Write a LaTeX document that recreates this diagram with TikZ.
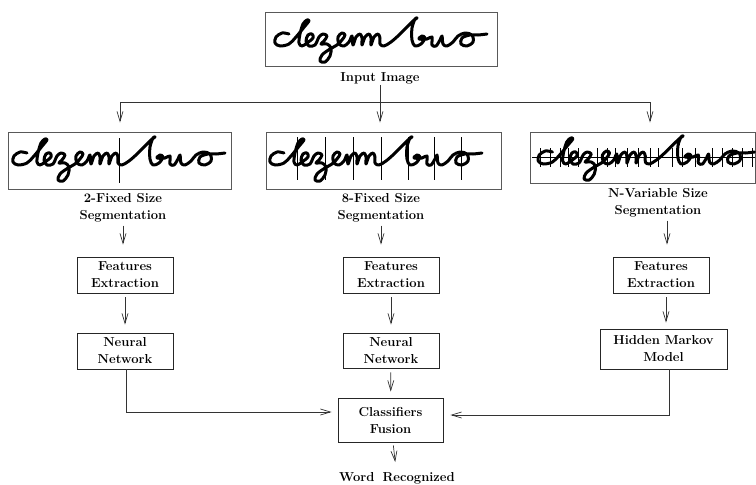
\documentclass[tikz,border=0pt]{standalone}
\usetikzlibrary{arrows.meta}
\begin{document}
\begin{tikzpicture}[x=1pt,y=-1pt,
  box/.style={draw=black!85, line width=0.8pt, inner sep=0pt, align=center, font=\fontsize{13}{17}\selectfont\bfseries},
  lbl/.style={inner sep=0pt, align=center, font=\fontsize{13}{17}\selectfont\bfseries},
  imgbox/.style={draw=black!65, line width=0.9pt, inner sep=0pt},
  arr/.style={draw=black!80, line width=0.7pt, -{Straight Barb[length=10pt,width=6pt]}},
  ln/.style={draw=black!80, line width=0.7pt},
  ink/.style={line width=3pt, line cap=round, line join=round},
  segl/.style={line width=0.7pt},
  hw/.pic={
    \draw[ink] plot[smooth, tension=0.55] coordinates {
      (24,22) (17,21) (11,25) (10,31) (15,34) (24,32) (31,25) (40,14) (44,9) (42,8) (38,12) (35,22) (34,31) (37,34)
      (42,31) (48,26) (47,22) (43,23) (41,29) (44,34) (50,33)
      (54,25) (58,22) (62,24) (59,29) (56,32) (62,32) (66,36) (65,44) (60,50) (55,49) (57,43) (65,37) (72,33)
      (77,28) (80,23) (77,21) (73,25) (74,32) (79,34) (84,30)
      (87,24) (88,33) (91,25) (95,22) (97,26) (97,33) (100,25) (104,22) (106,26) (106,33) (109,25) (113,22) (115,26) (115,32) (119,34)
      (126,30) (134,23) (142,15) (148,9) (152,6) (150,7) (147,16) (147,28) (150,34) (156,32) (160,26) (157,24) (154,27)
      (162,27) (167,25) (167,33) (171,34) (175,28) (177,24) (178,32) (182,34) (188,30)
      (193,24) (200,21) (207,23) (208,30) (202,34) (196,32) (197,26) (205,23) (213,23) (222,22)
    };
  }
]
\useasboundingbox (0,0) rectangle (756,485);

% input image
\node[imgbox, minimum width=232pt, minimum height=54pt] (img0) at (381,39) {};
\pic at (265,12) {hw};
\node[lbl] (lab0) at (380,78) {Input Image};

% segmented images
\node[imgbox, minimum width=223pt, minimum height=57pt] (img1) at (119.5,160.5) {};
\pic at (3,131) {hw};
\draw[segl] (119,138) -- (119,183);

\node[imgbox, minimum width=235pt, minimum height=57pt] (img2) at (383.5,160.5) {};
\pic at (260,131) {hw};
\foreach \sx in {297,325,353,381,408,434,461} \draw[segl] (\sx,137) -- (\sx,180);

\node[imgbox, minimum width=225pt, minimum height=51pt] (img3) at (642.5,157.5) {};
\pic[xscale=1.02] at (528,130) {hw};
\draw[segl] (532,157) -- (755,157);
\foreach \sx in {540,550,560,568,578,597,607,615,627,638,650,658,672,682,695,712,722,732,742,752} \draw[segl] (\sx,148) -- (\sx,167);

% labels
\node[lbl] (seg1) at (123,208) {2-Fixed Size\\Segmentation};
\node[lbl] (seg2) at (381,208) {8-Fixed Size\\Segmentation};
\node[lbl] (seg3) at (658,203) {N-Variable Size\\Segmentation};

% boxes
\node[box, minimum width=96pt, minimum height=36pt] (fe1) at (125,275) {Features\\Extraction};
\node[box, minimum width=96pt, minimum height=36pt] (nn1) at (125,351) {Neural\\Network};
\node[box, minimum width=96pt, minimum height=36pt] (fe2) at (391,275) {Features\\Extraction};
\node[box, minimum width=96pt, minimum height=35pt] (nn2) at (391,350.5) {Neural\\Network};
\node[box, minimum width=105pt, minimum height=44pt] (cf) at (390.5,420) {Classifiers\\Fusion};
\node[box, minimum width=96pt, minimum height=36pt] (fe3) at (661,275) {Features\\Extraction};
\node[box, minimum width=127pt, minimum height=40pt] (hmm) at (663.5,349) {Hidden Markov\\Model};
\node[lbl] (word) at (397,478) {Word\hspace{8pt}Recognized};

% top distribution
\coordinate (hl) at (120,102);
\coordinate (hr) at (650,102);
\draw[ln] (hl) -- (hr);
\draw[arr, shorten >=9pt] (hl) -- (hl |- img1.north);
\draw[arr, shorten >=9pt] (hr) -- (hr |- img3.north);
\draw[arr, shorten <=1pt, shorten >=9pt] (lab0.south) -- (lab0.south |- img2.north);

% columns
\draw[arr, shorten <=3pt, shorten >=12pt] (seg1.south) -- (seg1.south |- fe1.north);
\draw[arr, shorten <=4pt, shorten >=8pt] (fe1) -- (nn1);
\draw[arr, shorten <=3pt, shorten >=12pt] (seg2.south) -- (seg2.south |- fe2.north);
\draw[arr, shorten <=4pt, shorten >=8pt] (fe2) -- (nn2);
\draw[arr, shorten <=4pt, shorten >=6pt] (nn2) -- (cf);
\draw[arr, shorten <=3pt, shorten >=10pt] (cf) -- (word);
\draw[arr, shorten <=3pt, shorten >=12pt] ([xshift=9pt]seg3.south) -- ([xshift=9pt]seg3.south |- fe3.north);
\draw[arr, shorten <=4pt, shorten >=6pt] ([xshift=5pt]fe3.south) -- ([xshift=2.5pt]hmm.north);

% fusion
\draw[arr, shorten >=6pt] ([xshift=1pt]nn1.south) |- ([yshift=8pt]cf.west);
\draw[arr, shorten >=7pt] ([xshift=5.5pt]hmm.south) |- ([yshift=5pt]cf.east);
\end{tikzpicture}
\end{document}
